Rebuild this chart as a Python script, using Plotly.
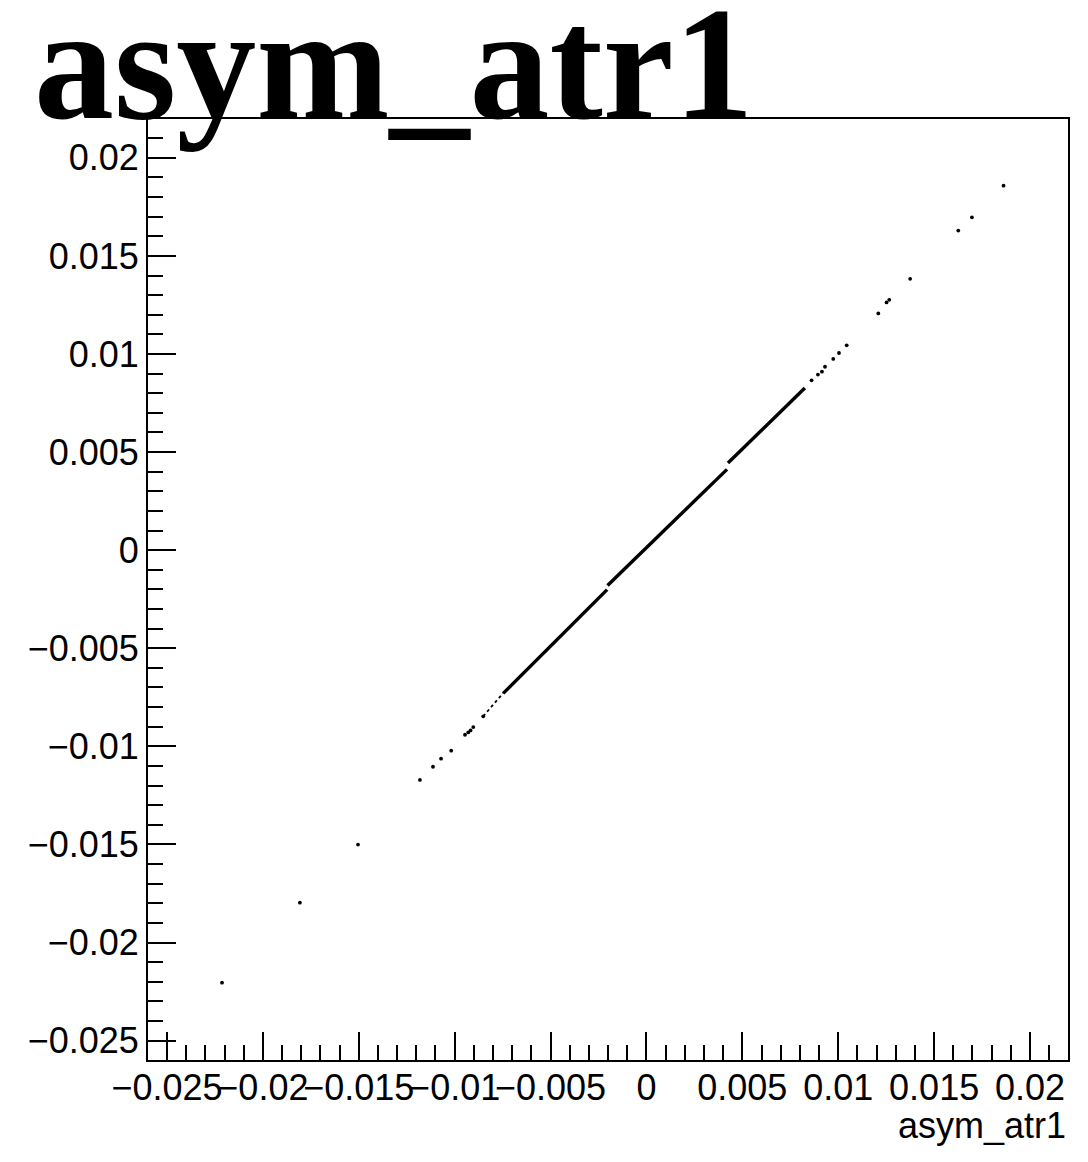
import plotly.graph_objects as go

# Dense band of the correlation (drawn as connected runs of points)
band_thin_x = [-0.00851, -0.00747]
band_thin_y = [-0.00847, -0.00728]
band_a_x = [-0.00747, -0.00205]
band_a_y = [-0.00730, -0.00201]
band_b_x = [-0.00203, 0.00420]
band_b_y = [-0.00180, 0.00412]
band_c_x = [0.00425, 0.00826]
band_c_y = [0.00444, 0.00827]

# Isolated entries in the tails
tail_x = [-0.02213, -0.01807, -0.01504, -0.01181, -0.01113, -0.01071, -0.01018,
          -0.00946, -0.00929, -0.00917, -0.00903, -0.00851,
          0.00861, 0.00894, 0.00915, 0.00931, 0.00974, 0.01004, 0.01044,
          0.01209, 0.01252, 0.01266, 0.01375, 0.01626, 0.01697, 0.01862]
tail_y = [-0.02205, -0.01797, -0.01501, -0.01171, -0.01104, -0.01063, -0.01022,
          -0.00941, -0.00929, -0.00919, -0.00902, -0.00847,
          0.00866, 0.00895, 0.00910, 0.00935, 0.00975, 0.01005, 0.01044,
          0.01207, 0.01263, 0.01276, 0.01383, 0.01629, 0.01697, 0.01858]

tick_vals = [-0.025, -0.02, -0.015, -0.01, -0.005, 0, 0.005, 0.01, 0.015, 0.02]
tick_text = ["\u22120.025", "\u22120.02", "\u22120.015", "\u22120.01", "\u22120.005",
             "0", "0.005", "0.01", "0.015", "0.02"]

axis_range = [-0.02599, 0.02198]
title_text = "asym_atr1"
xaxis_label = "asym_atr1"

fig = go.Figure()
fig.add_trace(go.Scatter(x=band_thin_x, y=band_thin_y, mode="lines",
                         line=dict(color="black", width=1.8, dash="dot"),
                         hoverinfo="skip", showlegend=False))
for bx, by in [(band_a_x, band_a_y), (band_b_x, band_b_y), (band_c_x, band_c_y)]:
    fig.add_trace(go.Scatter(x=bx, y=by, mode="lines",
                             line=dict(color="black", width=3.4),
                             showlegend=False))
fig.add_trace(go.Scatter(x=tail_x, y=tail_y, mode="markers",
                         marker=dict(color="black", size=3.8),
                         showlegend=False))

label_font = dict(family="Liberation Sans, Arial, sans-serif", size=36, color="black")

common_axis = dict(
    range=axis_range,
    showgrid=False,
    zeroline=False,
    showline=True,
    linecolor="black",
    linewidth=2,
    mirror=True,
    ticks="inside",
    ticklen=28,
    tickwidth=2,
    tickcolor="black",
    tickmode="array",
    tickvals=tick_vals,
    ticktext=tick_text,
    tickfont=label_font,
    tickangle=0,
    automargin=False,
    minor=dict(tickmode="linear", tick0=0, dtick=0.001, ticks="inside",
               ticklen=15, tickwidth=2, tickcolor="black"),
    fixedrange=True,
)

fig.update_xaxes(**common_axis, ticklabelstandoff=-5)
fig.update_yaxes(**common_axis, ticklabelstandoff=0)

fig.add_annotation(text=title_text, xref="paper", yref="paper",
                   x=-0.1261, y=1, xanchor="left", yanchor="bottom", yshift=-36,
                   showarrow=False,
                   font=dict(family="Liberation Serif, Times New Roman, serif",
                             size=160, color="black", weight="bold"))
fig.add_annotation(text=xaxis_label, xref="paper", yref="paper",
                   x=1, y=-0.0696, xanchor="right", yanchor="middle",
                   showarrow=False, font=label_font)

fig.update_layout(
    width=1088, height=1162,
    margin=dict(l=148, r=20, t=119, b=102),
    paper_bgcolor="white", plot_bgcolor="white",
    showlegend=False,
)

fig.write_html("out.html")
